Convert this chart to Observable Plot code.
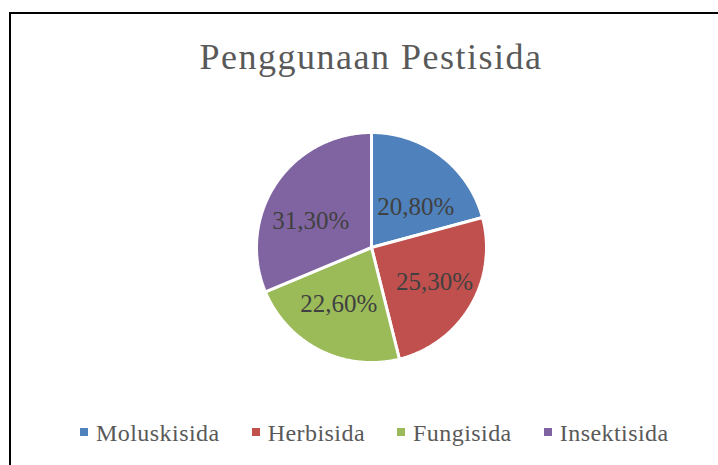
<!DOCTYPE html>
<html>
<head>
<meta charset="utf-8">
<script src="https://cdn.jsdelivr.net/npm/d3@7"></script>
<script src="https://cdn.jsdelivr.net/npm/@observablehq/plot@0.6"></script>
<style>
  html, body { margin: 0; padding: 0; background: #fff; }
  #wrap { position: relative; width: 718px; height: 465px; overflow: hidden; font-family: "Liberation Serif", "DejaVu Serif", serif; }
  #frame { position: absolute; left: 9px; top: 12px; width: 800px; height: 600px; border-left: 2px solid #000; border-top: 2px solid #000; }
  #title { position: absolute; left: 0; width: 742px; top: 39px; text-align: center; font-size: 36px; line-height: 36px; color: #595959; letter-spacing: 1.5px; white-space: nowrap; }
  #pie { position: absolute; left: 250px; top: 126px; }
  #legend { position: absolute; left: 80px; top: 421px; display: flex; align-items: center; font-size: 24px; line-height: 24px; color: #595959; letter-spacing: 0.45px; white-space: nowrap; }
  .item { display: flex; align-items: center; margin-right: 32px; }
  .sw { width: 8px; height: 8px; margin-right: 8px; margin-bottom: 2px; }
</style>
</head>
<body>
<div id="wrap">
  <div id="frame"></div>
  <div id="title">Penggunaan Pestisida</div>
  <div id="pie"></div>
  <div id="legend"></div>
</div>
<script>
const categories = ["Moluskisida", "Herbisida", "Fungisida", "Insektisida"];
const values = [20.8, 25.3, 22.6, 31.3];
const colors = ["#4F81BD", "#C0504D", "#9BBB59", "#8064A2"];

const data = categories.map((name, i) => ({name, value: values[i]}));
const arcs = d3.pie().sort(null).value(d => d.value)(data);

// slice outlines (unit circle, angle 0 at top, clockwise)
const pts = [];
for (const a of arcs) {
  pts.push({name: a.data.name, x: 0, y: 0});
  const n = Math.max(2, Math.ceil((a.endAngle - a.startAngle) / 0.01));
  for (let k = 0; k <= n; k++) {
    const t = a.startAngle + (a.endAngle - a.startAngle) * k / n;
    pts.push({name: a.data.name, x: Math.sin(t), y: Math.cos(t)});
  }
}
const labels = arcs.map(a => {
  const m = (a.startAngle + a.endAngle) / 2;
  return {
    name: a.data.name,
    x: 0.635 * Math.sin(m),
    y: 0.5 * Math.cos(m) - 0.045,
    text: a.data.value.toFixed(2).replace(".", ",") + "%"
  };
});

const R = 115, S = 242;
const half = (S / 2) / R;
const chart = Plot.plot({
  width: S, height: S,
  margin: 0,
  x: {domain: [-half, half], axis: null},
  y: {domain: [-half, half], axis: null},
  color: {domain: categories, range: colors},
  style: {background: "transparent", overflow: "visible"},
  marks: [
    Plot.line(pts, {x: "x", y: "y", z: "name", fill: "name", stroke: "white", strokeWidth: 3, strokeLinejoin: "miter", curve: "linear-closed"}),
    Plot.text(labels, {x: "x", y: "y", text: "text", fill: "#404040", fontSize: 25, fontFamily: "Liberation Serif", textAnchor: "middle", lineAnchor: "middle"})
  ]
});
document.getElementById("pie").appendChild(chart);

const lg = document.getElementById("legend");
categories.forEach((c, i) => {
  const it = document.createElement("div");
  it.className = "item";
  const sw = document.createElement("span");
  sw.className = "sw";
  sw.style.background = colors[i];
  const tx = document.createElement("span");
  tx.textContent = c;
  it.appendChild(sw); it.appendChild(tx);
  lg.appendChild(it);
});
</script>
</body>
</html>
